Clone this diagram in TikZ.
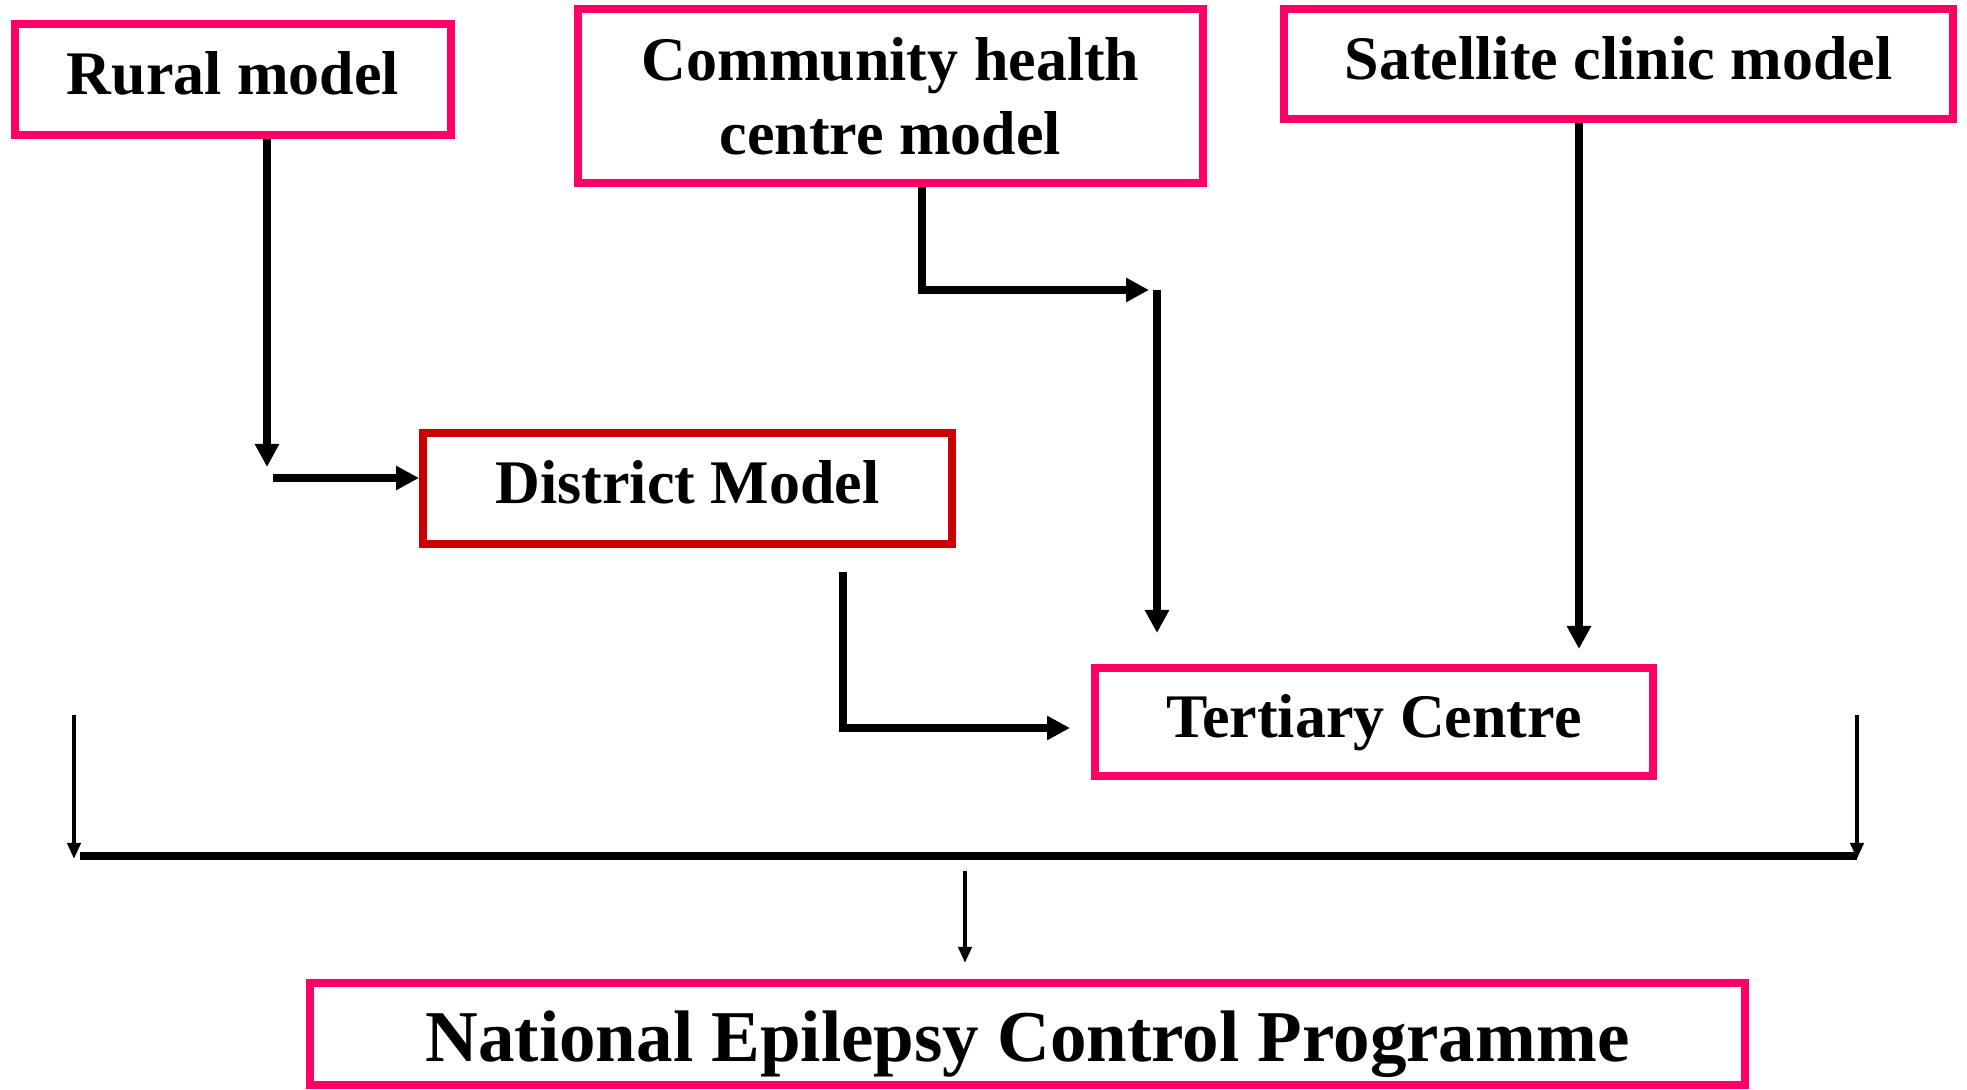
\documentclass[tikz,border=0pt]{standalone}
\usepackage{fontspec}
\setmainfont{Liberation Serif}
\usetikzlibrary{arrows.meta}
\definecolor{pinkb}{HTML}{FF0066}
\definecolor{redb}{HTML}{CC0000}
\begin{document}
\begin{tikzpicture}[x=0.5pt,y=-0.5pt,
  box/.style={draw=pinkb, line width=4pt, inner sep=0pt, align=center,
    font=\fontsize{31}{37}\selectfont\bfseries, text height=21.7pt, text depth=6.2pt},
  twoline/.style={draw=pinkb, line width=4pt, inner sep=0pt, align=center,
    font=\fontsize{31}{37}\selectfont\bfseries},
  bigbox/.style={draw=pinkb, line width=4pt, inner sep=0pt, align=center,
    font=\fontsize{36.5}{43}\selectfont\bfseries, text height=32.8pt, text depth=5.4pt},
  thickarrow/.style={line width=3.6pt, -{Triangle[length=11.5pt,width=11.5pt]}},
  thinarrow/.style={line width=2.4pt, -{Triangle[length=8pt,width=6.5pt]}},
  busline/.style={line width=4pt}]
\useasboundingbox (0,0) rectangle (1967,1090);
\fill[white] (0,0) rectangle (1967,1090);

% boxes
\node[box, minimum width=218pt, minimum height=55.5pt] (rural) at (233,79.5) {Rural model};
\node[twoline, minimum width=312.5pt, minimum height=87pt] (chc) at (890.5,96) {Community health\\centre model};
\node[box, minimum width=334.5pt, minimum height=55pt] (sat) at (1618.5,64) {Satellite clinic model};
\node[box, draw=redb, minimum width=264.5pt, minimum height=55.5pt] (district) at (687.5,488.5) {District Model};
\node[box, minimum width=279pt, minimum height=54pt] (tertiary) at (1374,722) {Tertiary Centre};
\node[bigbox, minimum width=717.5pt, minimum height=51pt] (necp) at (1027.5,1034) {National Epilepsy Control Programme};

% connector points
\coordinate (r1) at (267,467);
\coordinate (r2) at (273,478);
\coordinate (c1) at (922,290);
\coordinate (c2) at (1149,290);
\coordinate (v1) at (1157,290);
\coordinate (v2) at (1157,633);
\coordinate (s1) at (1579,649);
\coordinate (d1) at (843,572);
\coordinate (d2) at (1070,728);
\coordinate (l1) at (74,715);
\coordinate (l2) at (74,859);
\coordinate (rr1) at (1857,715);
\coordinate (rr2) at (1857,859);
\coordinate (b1) at (80,856);
\coordinate (b2) at (1857,856);
\coordinate (m1) at (965,871);
\coordinate (m2) at (965,963);

% connectors
\draw[thickarrow] (rural.south -| r1) -- (r1);
\draw[thickarrow] (r2) -- (district.west |- r2);
\draw[thickarrow] (chc.south -| c1) |- (c2);
\draw[thickarrow] (v1) -- (v2);
\draw[thickarrow] (sat.south -| s1) -- (s1);
\draw[thickarrow] (d1) |- (d2);
\draw[thinarrow] (l1) -- (l2);
\draw[thinarrow] (rr1) -- (rr2);
\draw[busline] (b1) -- (b2);
\draw[thinarrow] (m1) -- (m2);
\end{tikzpicture}
\end{document}
